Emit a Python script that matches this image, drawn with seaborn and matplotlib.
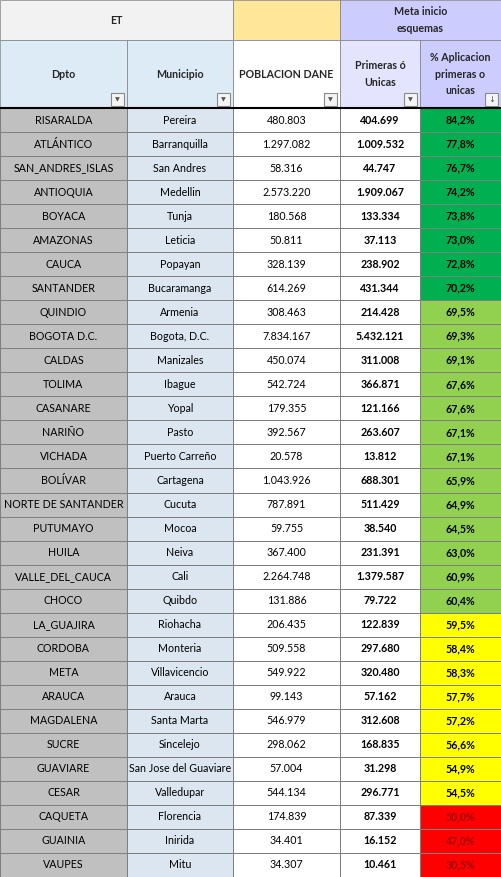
import numpy as np
import matplotlib
matplotlib.use("Agg")
import matplotlib.pyplot as plt
import seaborn as sns
from matplotlib.colors import ListedColormap
from matplotlib.patches import Rectangle

sns.set_style("white")
plt.rcParams['font.family'] = ['Lato', 'DejaVu Sans']

dpto = ["RISARALDA","ATLÁNTICO","SAN_ANDRES_ISLAS","ANTIOQUIA","BOYACA","AMAZONAS","CAUCA","SANTANDER",
        "QUINDIO","BOGOTA D.C.","CALDAS","TOLIMA","CASANARE","NARIÑO","VICHADA","BOLÍVAR",
        "NORTE DE SANTANDER","PUTUMAYO","HUILA","VALLE_DEL_CAUCA","CHOCO","LA_GUAJIRA","CORDOBA","META",
        "ARAUCA","MAGDALENA","SUCRE","GUAVIARE","CESAR","CAQUETA","GUAINIA","VAUPES"]
municipio = ["Pereira","Barranquilla","San Andres","Medellin","Tunja","Leticia","Popayan","Bucaramanga",
             "Armenia","Bogota, D.C.","Manizales","Ibague","Yopal","Pasto","Puerto Carreño","Cartagena",
             "Cucuta","Mocoa","Neiva","Cali","Quibdo","Riohacha","Monteria","Villavicencio",
             "Arauca","Santa Marta","Sincelejo","San Jose del Guaviare","Valledupar","Florencia","Inirida","Mitu"]
poblacion = ["480.803","1.297.082","58.316","2.573.220","180.568","50.811","328.139","614.269",
             "308.463","7.834.167","450.074","542.724","179.355","392.567","20.578","1.043.926",
             "787.891","59.755","367.400","2.264.748","131.886","206.435","509.558","549.922",
             "99.143","546.979","298.062","57.004","544.134","174.839","34.401","34.307"]
primeras = ["404.699","1.009.532","44.747","1.909.067","133.334","37.113","238.902","431.344",
            "214.428","5.432.121","311.008","366.871","121.166","263.607","13.812","688.301",
            "511.429","38.540","231.391","1.379.587","79.722","122.839","297.680","320.480",
            "57.162","312.608","168.835","31.298","296.771","87.339","16.152","10.461"]
pct = [84.2,77.8,76.7,74.2,73.8,73.0,72.8,70.2,69.5,69.3,69.1,67.6,67.6,67.1,67.1,65.9,
       64.9,64.5,63.0,60.9,60.4,59.5,58.4,58.3,57.7,57.2,56.6,54.9,54.5,50.0,47.0,30.5]
headers = ["Dpto","Municipio","POBLACION DANE","Primeras ó\nUnicas","% Aplicacion\nprimeras o\nunicas"]

W, H = 501, 877
xe = np.array([0, 127, 233, 340, 420, 501])
h1, h2 = 40, 108
n = len(dpto)
ye = np.linspace(h2, H, n + 1)

palette = ["#C0C0C0", "#DCE6F1", "#FFFFFF", "#00B050", "#92D050", "#FFFF00", "#FF0000"]
def pcode(p):
    if p >= 70: return 3
    if p >= 60: return 4
    if p > 50: return 5
    return 6
codes = np.array([[0, 1, 2, 2, pcode(p)] for p in pct])

fig = plt.figure(figsize=(W/100, H/100), dpi=100)
ax = fig.add_axes([0, 0, 1, 1])
ax.pcolormesh(xe, ye, codes, cmap=ListedColormap(palette), vmin=-0.5, vmax=6.5,
              edgecolor="#7F7F7F", linewidth=0.5)
ax.set_xlim(0, W); ax.set_ylim(H, 0); ax.axis("off")

fs = 7.7
for x0, x1, col, txt in [(0, 233, "#F2F2F2", "ET"), (233, 340, "#FFE699", ""), (340, 501, "#CCCCFF", "Meta inicio\nesquemas")]:
    ax.add_patch(Rectangle((x0, 0), x1-x0, h1, facecolor=col, edgecolor="#7F7F7F", lw=0.5))
    ax.text((x0+x1)/2, h1/2, txt, ha="center", va="center", fontsize=fs, fontweight="bold", linespacing=1.6)
hcols = ["#DDEBF7", "#DDEBF7", "#FFFFFF", "#E4E4FF", "#CCCCFF"]
for j in range(5):
    ax.add_patch(Rectangle((xe[j], h1), xe[j+1]-xe[j], h2-h1, facecolor=hcols[j], edgecolor="#7F7F7F", lw=0.5))
    ax.text((xe[j]+xe[j+1])/2, (h1+h2)/2, headers[j], ha="center", va="center", fontsize=fs,
            fontweight="bold", linespacing=1.6)
    bx = xe[j+1] - 16
    ax.add_patch(Rectangle((bx, h2-15), 13, 13, facecolor="#F4F4F4", edgecolor="#8A8A8A", lw=0.8))
    ax.text(bx+6.5, h2-8.5, "▼" if j < 4 else "↓", ha="center", va="center", fontsize=4.5 if j < 4 else 6,
            color="#555555", family=["DejaVu Sans"])
ax.plot([0, W], [h2, h2], color="black", lw=1.5)

for i in range(n):
    yc = (ye[i] + ye[i+1]) / 2
    vals = [dpto[i], municipio[i], poblacion[i], primeras[i], f"{pct[i]:.1f}%".replace(".", ",")]
    for j, v in enumerate(vals):
        color = "#9C0006" if (j == 4 and codes[i, 4] == 6) else "black"
        ax.text((xe[j]+xe[j+1])/2, yc, v, ha="center", va="center", fontsize=fs,
                fontweight="bold" if j >= 3 else "normal", color=color, clip_on=True)

fig.savefig("out.png", dpi=100)
